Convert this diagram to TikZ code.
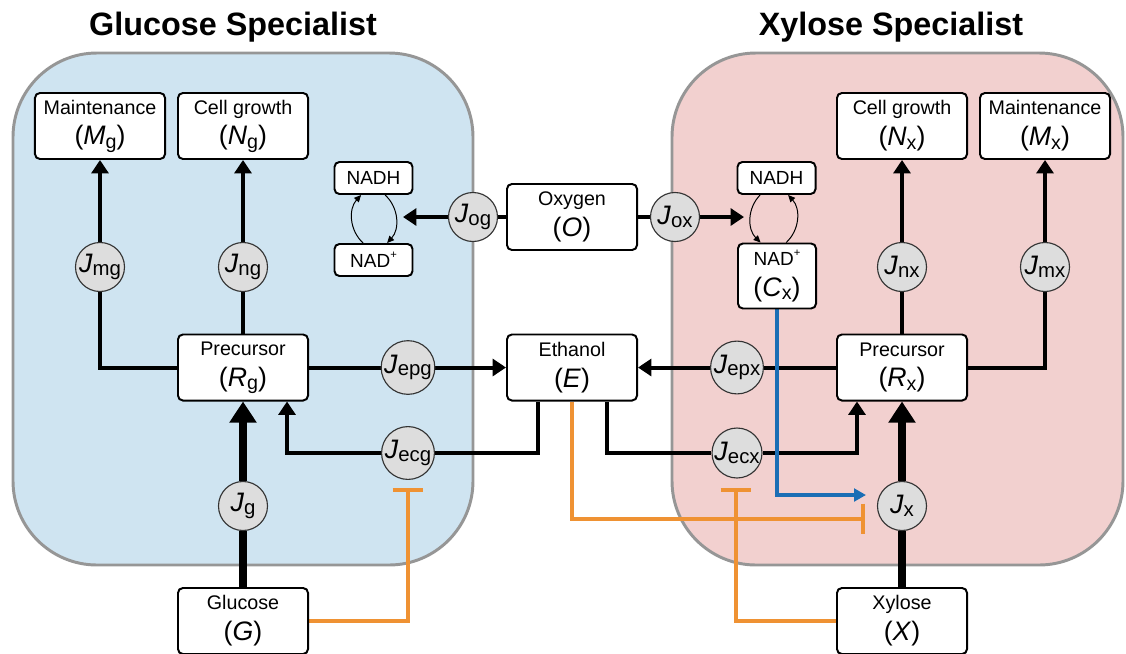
\documentclass[tikz,border=0pt]{standalone}
\usepackage{fontspec}
\setmainfont{Liberation Sans}
\usetikzlibrary{arrows.meta}

\pgfdeclarelayer{cell}
\pgfdeclarelayer{wire}
\pgfsetlayers{cell,wire,main}

\definecolor{glucfill}{RGB}{207,228,241}
\definecolor{xylfill}{RGB}{242,208,207}
\definecolor{cellrim}{RGB}{150,150,150}
\definecolor{fluxfill}{RGB}{221,221,221}
\definecolor{inhib}{RGB}{239,146,51}
\definecolor{redox}{RGB}{27,110,181}

\newcommand{\pool}[2]{{\fontsize{19}{22}\selectfont(\textit{#1}\raisebox{-0.12em}{\fontsize{14}{14}\selectfont #2})}}
\newcommand{\flux}[1]{\textit{J}\raisebox{-1.8pt}{\fontsize{14.5}{14.5}\selectfont #1}}
\newcommand{\nadp}{NAD\raisebox{0.45em}{\fontsize{8}{8}\selectfont +}}

\begin{document}
\begin{tikzpicture}[
            x=0.025cm, y=-0.025cm,
            title/.style={font=\fontsize{23}{28}\selectfont\bfseries, anchor=base},
            cellbox/.style={draw=cellrim, line width=2.1pt, rounded corners=2.1cm},
            poolbox/.style={draw, rounded corners=3.5pt, line width=1.4pt, fill=white, minimum width=3.25cm, minimum height=1.65cm, inner sep=0pt, align=center, font=\fontsize{14}{22}\selectfont},
            cofbox/.style={poolbox, minimum width=1.95cm, minimum height=0.8cm, font=\fontsize{13.5}{22}\selectfont},
            fluxnode/.style={circle, draw=black!80, line width=0.8pt, fill=fluxfill, minimum size=1.225cm, inner sep=0pt, font=\fontsize{19}{19}\selectfont},
            plain/.style={line width=2.85pt},
            flow/.style={plain, -{Triangle[width=12pt,length=9.5pt]}},
            bigflow/.style={line width=5pt, -{Triangle[width=18.5pt,length=15pt]}},
            nadcycle/.style={line width=0.7pt, -{Triangle[width=4.5pt,length=5pt]}},
            inhibit/.style={draw=inhib, line width=2.7pt, -{Bar[width=22pt]}},
            redoxarrow/.style={draw=redox, line width=2.3pt, -{Triangle[width=9pt,length=8.5pt]}}
        ]
        \useasboundingbox (0,0) rectangle (1126,653);

        % the two cells
        \begin{pgfonlayer}{cell}
            \draw[cellbox, fill=glucfill] (13,53) rectangle (473,565);
            \draw[cellbox, fill=xylfill] (672,53) rectangle (1123,565);
        \end{pgfonlayer}

        \node[title] (gtitle) at (233,35) {Glucose Specialist};
        \node[title] (xtitle) at (891,35) {Xylose Specialist};

        % shared pools
        \node[poolbox] (Ox) at (572,217) {Oxygen\\\pool{O}{}};
        \node[poolbox] (Eth) at (572,367.5) {Ethanol\\\pool{E}{}};

        % glucose specialist
        \node[poolbox] (Mg) at (100,126) {Maintenance\\\pool{M}{g}};
        \node[poolbox] (Ng) at (243,126) {Cell growth\\\pool{N}{g}};
        \node[poolbox] (Rg) at (243,367.5) {Precursor\\\pool{R}{g}};
        \node[poolbox] (Gl) at (243,621) {Glucose\\\pool{G}{}};
        \node[cofbox] (NADHg) at (373.5,178) {NADH};
        \node[cofbox] (NADg) at (373.5,260) {\nadp};

        \node[fluxnode] (Jmg) at (100,267) {\flux{mg}};
        \node[fluxnode] (Jng) at (243,267) {\flux{ng}};
        \node[fluxnode] (Jepg) at (408,367.5) {\flux{epg}};
        \node[fluxnode] (Jecg) at (408,453) {\flux{ecg}};
        \node[fluxnode] (Jg) at (243,506) {\flux{g}};
        \node[fluxnode] (Jog) at (473,217) {\flux{og}};

        % xylose specialist
        \node[poolbox] (Nx) at (902,126) {Cell growth\\\pool{N}{x}};
        \node[poolbox] (Mx) at (1045,126) {Maintenance\\\pool{M}{x}};
        \node[poolbox] (Rx) at (902,367.5) {Precursor\\\pool{R}{x}};
        \node[poolbox] (Xy) at (902,621) {Xylose\\\pool{X}{}};
        \node[cofbox] (NADHx) at (776.5,178) {NADH};
        \node[cofbox, minimum height=1.625cm] (Cx) at (777,276) {\nadp\\\pool{C}{x}};

        \node[fluxnode] (Jnx) at (902,267) {\flux{nx}};
        \node[fluxnode] (Jmx) at (1045,267) {\flux{mx}};
        \node[fluxnode] (Jepx) at (737,367.5) {\flux{epx}};
        \node[fluxnode] (Jecx) at (737,453) {\flux{ecx}};
        \node[fluxnode] (Jx) at (902,506) {\flux{x}};
        \node[fluxnode] (Jox) at (675,217) {\flux{ox}};

        \coordinate (ogtip) at (403,217);
        \coordinate (oxtip) at (744,217);
        \coordinate (gbar) at (408,488);
        \coordinate (xbar) at (736,488);
        \coordinate (ebar) at (865,519);
        \coordinate (cxtip) at (866,495);

        \begin{pgfonlayer}{wire}
            % carbon fluxes
            \draw[flow] (Rg.west) -| (Jmg) -- (Mg);
            \draw[flow] (Rg) -- (Jng) -- (Ng);
            \draw[flow] (Rg) -- (Jepg) -- (Eth);
            \draw[flow] ([xshift=-0.85cm]Eth.south) |- (Jecg) -| ([xshift=1.1cm]Rg.south);
            \draw[bigflow] (Gl) -- (Jg) -- (Rg);

            \draw[flow] (Rx.east) -| (Jmx) -- (Mx);
            \draw[flow] (Rx) -- (Jnx) -- (Nx);
            \draw[flow] (Rx) -- (Jepx) -- (Eth);
            \draw[flow] ([xshift=0.875cm]Eth.south) |- (Jecx) -| ([xshift=-1.125cm]Rx.south);
            \draw[bigflow] (Xy) -- (Jx) -- (Rx);

            % oxygen uptake
            \draw[plain] (Ox) -- (Jog);
            \draw[flow] (Jog) -- (ogtip);
            \draw[plain] (Ox) -- (Jox);
            \draw[flow] (Jox) -- (oxtip);

            % inhibition
            \draw[inhibit] (Gl.east) -| (gbar);
            \draw[inhibit] (Xy.west) -| (xbar);
            \draw[inhibit] (Eth.south) |- (ebar);

            % redox
            \draw[redoxarrow] (Cx.south) |- (cxtip);
        \end{pgfonlayer}

        % NADH / NAD+ cycles
        \draw[nadcycle] ([xshift=-0.26cm]NADg.north) to[bend left=45] ([xshift=-0.31cm]NADHg.south);
        \draw[nadcycle] ([xshift=0.29cm]NADHg.south) to[bend left=45] ([xshift=0.34cm]NADg.north);
        \draw[nadcycle] ([xshift=-0.41cm]NADHx.south) to[bend right=45] ([xshift=-0.41cm]Cx.north);
        \draw[nadcycle] ([xshift=0.23cm]Cx.north) to[bend right=45] ([xshift=0.29cm]NADHx.south);

    \end{tikzpicture}
\end{document}
